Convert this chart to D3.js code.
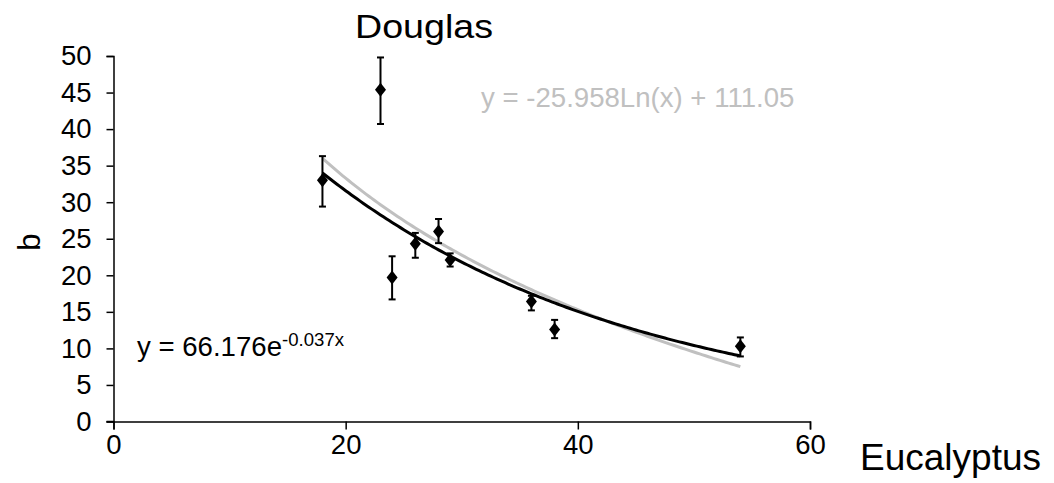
<!DOCTYPE html>
<html><head><meta charset="utf-8">
<script src="https://cdn.jsdelivr.net/npm/d3@7"></script>
<style>body{margin:0;background:#fff}svg{display:block}text{font-family:"Liberation Sans",Arial,sans-serif}</style>
</head><body>
<script>
const xs = [18, 23, 24, 26, 28, 29, 36, 38, 54];
const ys = [33.0, 45.4, 19.7, 24.3, 26.0, 22.1, 16.4, 12.6, 10.3];
const errUp = [3.3, 4.4, 2.9, 1.5, 1.7, 0.9, 0.8, 1.3, 1.2];
const errDown = [3.6, 4.7, 3.0, 1.9, 1.6, 0.9, 1.2, 1.2, 1.4];
const xTicks = [0, 20, 40, 60];
const yTicks = [0, 5, 10, 15, 20, 25, 30, 35, 40, 45, 50];
const expFit = {a: 66.176, k: -0.037};
const logFit = {a: -25.958, b: 111.05};
const fitRange = [18, 54];

const W = 1054, H = 483;
const FONT = '"Liberation Sans",Arial,sans-serif';
const svg = d3.select("body").append("svg").attr("width", W).attr("height", H);
const x = d3.scaleLinear().domain([0, 60]).range([113.5, 810]);
const y = d3.scaleLinear().domain([0, 50]).range([421.5, 56]);

const yAxis = svg.append("g").attr("transform", `translate(${x(0)},0)`)
  .call(d3.axisLeft(y).tickValues(yTicks).tickSize(7).tickPadding(15));
const xAxis = svg.append("g").attr("transform", `translate(0,${y(0)})`)
  .call(d3.axisBottom(x).tickValues(xTicks).tickSize(8).tickPadding(5));
[xAxis, yAxis].forEach(g => {
  g.select(".domain").attr("stroke", "#000").attr("stroke-width", 1.5);
  g.selectAll(".tick line").attr("stroke", "#000").attr("stroke-width", 1.5);
  g.selectAll(".tick text").attr("font-size", 27.5).attr("fill", "#000").style("font-family", FONT);
});
svg.append("line").attr("x1", x(0) - 7).attr("x2", x(0)).attr("y1", y(0)).attr("y2", y(0)).attr("stroke", "#000").attr("stroke-width", 1.5);

// trend lines
const samples = d3.range(fitRange[0], fitRange[1] + 0.001, 0.25);
const line = d3.line().x(d => x(d[0])).y(d => y(d[1]));
svg.append("path").attr("d", line(samples.map(t => [t, logFit.a * Math.log(t) + logFit.b])))
  .attr("fill", "none").attr("stroke", "#c0c0c0").attr("stroke-width", 3);
svg.append("path").attr("d", line(samples.map(t => [t, expFit.a * Math.exp(expFit.k * t)])))
  .attr("fill", "none").attr("stroke", "#000").attr("stroke-width", 3);

// error bars
const eb = svg.append("g").attr("stroke", "#000").attr("stroke-width", 2);
xs.forEach((xv, i) => {
  const cx = x(xv);
  const top = y(ys[i] + errUp[i]), bot = y(ys[i] - errDown[i]);
  eb.append("line").attr("x1", cx).attr("x2", cx).attr("y1", top).attr("y2", bot);
  eb.append("line").attr("x1", cx - 3.5).attr("x2", cx + 3.5).attr("y1", top).attr("y2", top);
  eb.append("line").attr("x1", cx - 3.5).attr("x2", cx + 3.5).attr("y1", bot).attr("y2", bot);
});
svg.append("g").selectAll("path").data(xs).join("path")
  .attr("d", (d, i) => {
    const cx = x(d), cy = y(ys[i]);
    return `M${cx},${cy - 7}L${cx + 5.5},${cy}L${cx},${cy + 7}L${cx - 5.5},${cy}Z`;
  }).attr("fill", "#000");

// texts
svg.append("text").attr("x", 355).attr("y", 37.5).attr("font-size", 34)
  .attr("textLength", 138).attr("lengthAdjust", "spacingAndGlyphs").text("Douglas");
svg.append("text").attr("x", 860).attr("y", 469.5).attr("font-size", 37).text("Eucalyptus");
svg.append("text").attr("transform", "translate(40,242) rotate(-90)").attr("text-anchor", "middle").attr("font-size", 31).text("b");
svg.append("text").attr("x", 481).attr("y", 107).attr("font-size", 27.6).attr("fill", "#c0c0c0")
  .text(`y = ${logFit.a}Ln(x) + ${logFit.b}`);
const t2 = svg.append("text").attr("x", 137).attr("y", 356).attr("font-size", 27.6).attr("fill", "#000");
t2.append("tspan").text(`y = ${expFit.a}e`);
t2.append("tspan").attr("dy", -10).attr("font-size", 18.6).text(`${expFit.k}x`);
</script>
</body></html>
